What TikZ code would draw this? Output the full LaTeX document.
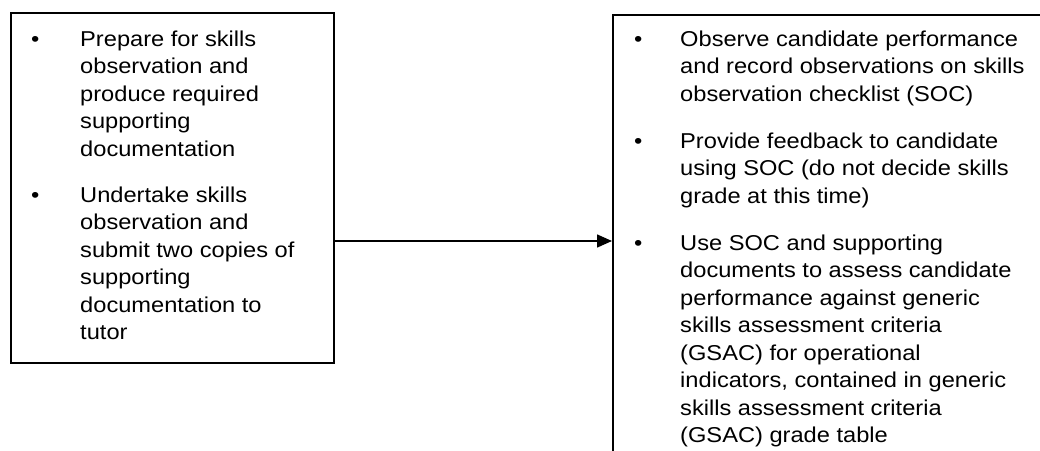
\documentclass[tikz,border=0pt]{standalone}
\usepackage{fontspec}
\setmainfont{Liberation Sans}[FakeStretch=1.1]
\usetikzlibrary{arrows.meta}
\begin{document}
\begin{tikzpicture}[x=1pt,y=-1pt,
  box/.style={draw=black, line width=1.5pt, rectangle, inner sep=0pt, anchor=north west},
  txt/.style={anchor=base west, inner sep=0pt, font=\fontsize{21.5}{27.5}\selectfont},
  bul/.style={anchor=base west, inner sep=0pt, font=\fontsize{21.5}{27.5}\selectfont},
  arr/.style={draw=black, line width=1.5pt, -{Triangle[length=15pt,width=13pt]}}]
\useasboundingbox (0,0) rectangle (1040,450);
\clip (0,0) rectangle (1040,450);
\fill[white] (0,0) rectangle (1040,450);
% boxes
\node[box, minimum width=323pt, minimum height=350pt] (L) at (10,12) {};
\node[box, minimum width=480pt, minimum height=480pt] (R) at (612,14) {};
% left box text
\node[bul] (lb1) at (31,46) {•};
\foreach \t [count=\i from 0] in {Prepare for skills, observation and, produce required, supporting, documentation}
  \node[txt] (la\i) at (80,{46+27.5*\i}) {\t};
\node[bul] (lb2) at (31,202) {•};
\foreach \t [count=\i from 0] in {Undertake skills, observation and, submit two copies of, supporting, documentation to, tutor}
  \node[txt] (lc\i) at (80,{202+27.5*\i}) {\t};
% right box text
\node[bul] (rb1) at (634,46) {•};
\foreach \t [count=\i from 0] in {Observe candidate performance, and record observations on skills, observation checklist (SOC)}
  \node[txt] (ra\i) at (680,{46+27.5*\i}) {\t};
\node[bul] (rb2) at (634,148) {•};
\foreach \t [count=\i from 0] in {Provide feedback to candidate, using SOC (do not decide skills, grade at this time)}
  \node[txt] (rc\i) at (680,{148+27.5*\i}) {\t};
\node[bul] (rb3) at (634,250) {•};
\foreach \t [count=\i from 0] in {Use SOC and supporting, documents to assess candidate, performance against generic, skills assessment criteria, (GSAC) for operational, {indicators, contained in generic}, skills assessment criteria, (GSAC) grade table}
  \node[txt] (rd\i) at (680,{250+27.5*\i}) {\t};
% connector
\draw[arr] (L.east |- 0,241) -- (R.west |- 0,241);
\end{tikzpicture}
\end{document}
